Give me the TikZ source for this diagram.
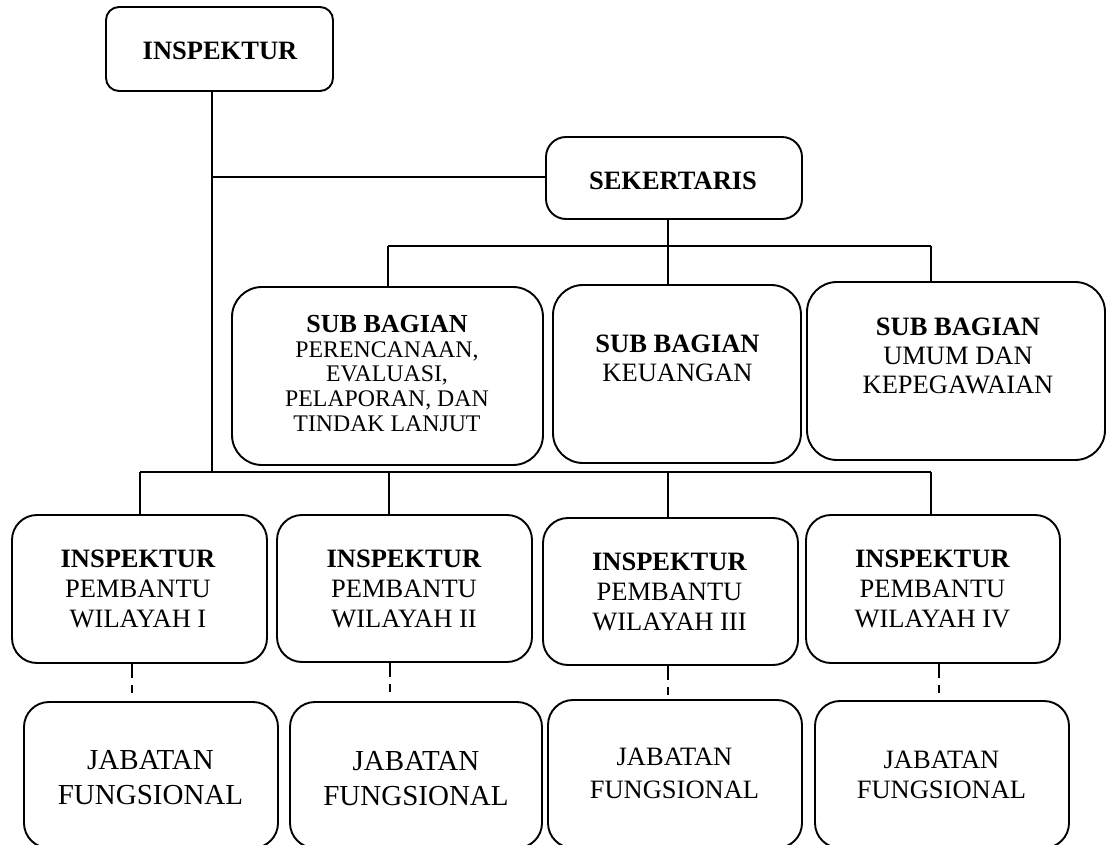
\documentclass[tikz,border=0pt]{standalone}
\usepackage{fontspec}
\setmainfont{Liberation Serif}
\begin{document}
\begin{tikzpicture}[x=1pt,y=-1pt,
  box/.style={draw, line width=1.9pt, inner sep=0pt, outer sep=0pt, rounded corners=#1},
  box/.default=25pt,
  txt/.style={anchor=north, align=center, inner sep=0pt, outer sep=0pt},
  conn/.style={line width=1.9pt},
  dashconn/.style={line width=1.9pt, dash pattern=on 15pt off 7pt on 8pt off 30pt}]
\useasboundingbox (0,0) rectangle (1106,845);
\clip (0,0) rectangle (1106,845);

% boxes
\node[box=13pt, minimum width=227pt, minimum height=84pt] (insp) at (219.5,49) {};
\node[box=20pt, minimum width=256pt, minimum height=82pt] (sek) at (674,178) {};
\node[box=30pt, minimum width=311pt, minimum height=178pt] (sb1) at (387.5,376) {};
\node[box=30pt, minimum width=248pt, minimum height=178pt] (sb2) at (677,374) {};
\node[box=30pt, minimum width=298pt, minimum height=178pt] (sb3) at (956,371) {};
\node[box, minimum width=255pt, minimum height=148pt] (ipw1) at (139.5,589) {};
\node[box, minimum width=255pt, minimum height=147pt] (ipw2) at (404.5,588.5) {};
\node[box, minimum width=255pt, minimum height=147pt] (ipw3) at (670.5,591.5) {};
\node[box, minimum width=254pt, minimum height=148pt] (ipw4) at (933,589) {};
\node[box, minimum width=254pt, minimum height=146pt] (jf1) at (151,775) {};
\node[box, minimum width=252pt, minimum height=146pt] (jf2) at (416,775) {};
\node[box, minimum width=254pt, minimum height=148pt] (jf3) at (675,774) {};
\node[box, minimum width=254pt, minimum height=147pt] (jf4) at (942,774.5) {};

% texts
\node[txt, font=\fontsize{26.5}{30}\selectfont\bfseries] (insptxt) at (220,42) {INSPEKTUR};
\node[txt, font=\fontsize{26.5}{30}\selectfont\bfseries] (sektxt) at (673,172) {SEKERTARIS};
\node[txt, font=\fontsize{23.8}{24.8}\selectfont] (sb1txt) at (387,315)
  {{\fontsize{26}{25}\selectfont\bfseries SUB BAGIAN}\\PERENCANAAN,\\EVALUASI,\\PELAPORAN, DAN\\TINDAK LANJUT};
\node[txt, font=\fontsize{26.5}{29}\selectfont] (sb2txt) at (677.5,335)
  {\textbf{SUB BAGIAN}\\KEUANGAN};
\node[txt, font=\fontsize{26.5}{29}\selectfont] (sb3txt) at (958,318)
  {\textbf{SUB BAGIAN}\\UMUM DAN\\KEPEGAWAIAN};
\node[txt, font=\fontsize{26.5}{30}\selectfont] (ipw1txt) at (138,550)
  {\textbf{INSPEKTUR}\\PEMBANTU\\WILAYAH I};
\node[txt, font=\fontsize{26.5}{30}\selectfont] (ipw2txt) at (404,550)
  {\textbf{INSPEKTUR}\\PEMBANTU\\WILAYAH II};
\node[txt, font=\fontsize{26.5}{30}\selectfont] (ipw3txt) at (669.5,553)
  {\textbf{INSPEKTUR}\\PEMBANTU\\WILAYAH III};
\node[txt, font=\fontsize{26.5}{30}\selectfont] (ipw4txt) at (932.5,550)
  {\textbf{INSPEKTUR}\\PEMBANTU\\WILAYAH IV};
\node[txt, font=\fontsize{29}{35}\selectfont] (jf1txt) at (150.5,750) {JABATAN\\FUNGSIONAL};
\node[txt, font=\fontsize{29}{35}\selectfont] (jf2txt) at (416,751) {JABATAN\\FUNGSIONAL};
\node[txt, font=\fontsize{26.5}{33}\selectfont] (jf3txt) at (674.5,748) {JABATAN\\FUNGSIONAL};
\node[txt, font=\fontsize{26.5}{30}\selectfont] (jf4txt) at (941.5,751) {JABATAN\\FUNGSIONAL};

% junction coordinates
\coordinate (j0) at (212,177);
\coordinate (j1) at (212,472);
\coordinate (s0) at (388,246);
\coordinate (s1) at (668,246);
\coordinate (s3) at (931,246);
\coordinate (b1) at (140,472);
\coordinate (b2) at (389,472);
\coordinate (b3) at (668,472);
\coordinate (b4) at (931,472);
\coordinate (d1) at (132,0);
\coordinate (d2) at (390,0);
\coordinate (d3) at (668,0);
\coordinate (d4) at (939,0);

% connectors
\draw[conn] (insp.south -| j1) -- (j1);
\draw[conn] (j0) -- (sek.west |- j0);
\draw[conn] (sek.south -| s1) -- (sb2.north -| s1);
\draw[conn] (s0) -- (s3);
\draw[conn] (s0) -- (sb1.north -| s0);
\draw[conn] (s3) -- (sb3.north -| s3);
\draw[conn] (b1) -- (b4);
\draw[conn] (b1) -- (ipw1.north -| b1);
\draw[conn] (b2) -- (ipw2.north -| b2);
\draw[conn] (b3) -- (ipw3.north -| b3);
\draw[conn] (b4) -- (ipw4.north -| b4);
\draw[dashconn] (ipw1.south -| d1) -- (jf1.north -| d1);
\draw[dashconn] (ipw2.south -| d2) -- (jf2.north -| d2);
\draw[dashconn] (ipw3.south -| d3) -- (jf3.north -| d3);
\draw[dashconn] (ipw4.south -| d4) -- (jf4.north -| d4);
\end{tikzpicture}
\end{document}
